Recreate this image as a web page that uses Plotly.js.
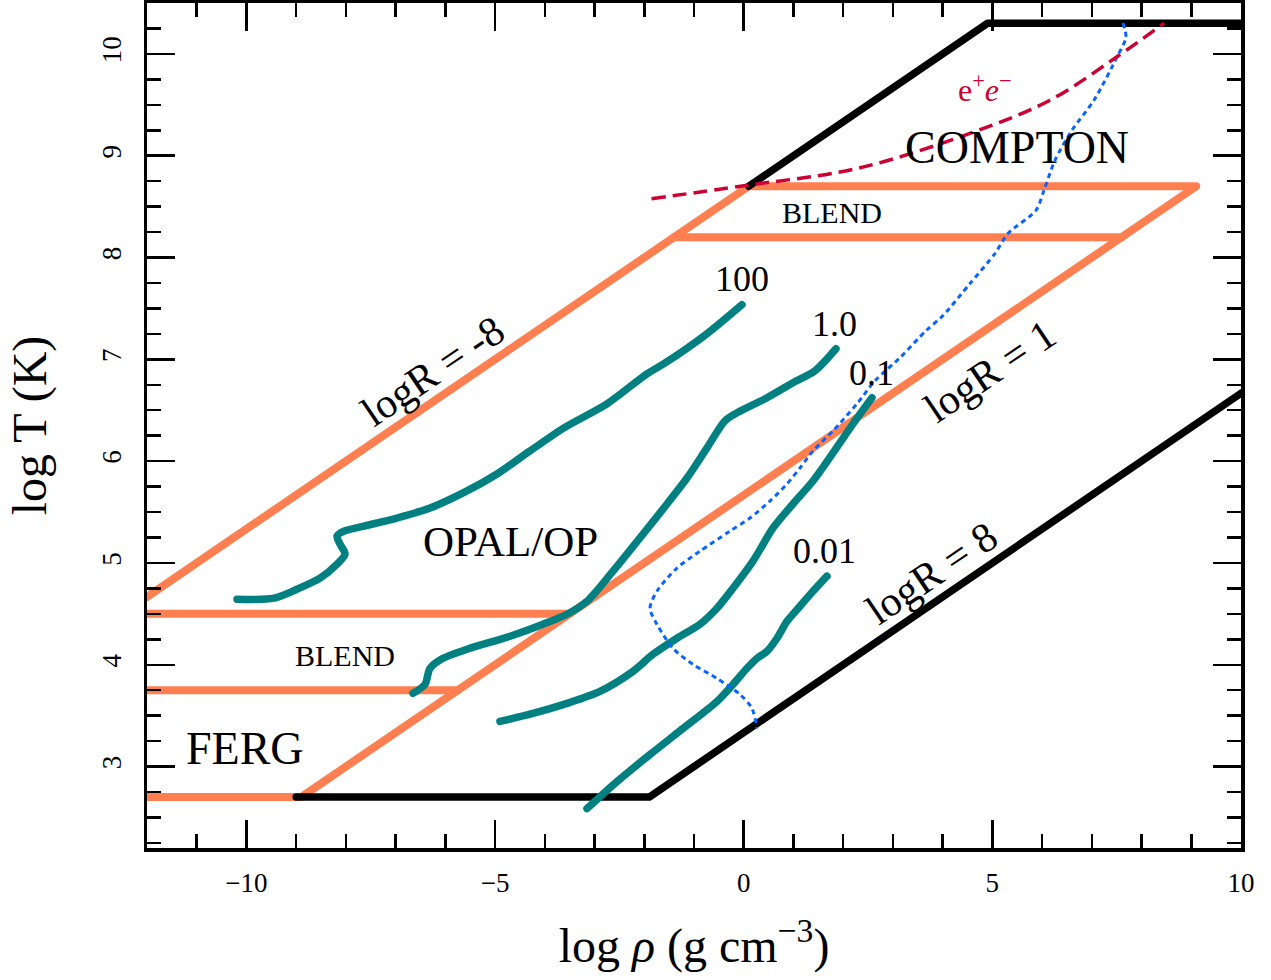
<!DOCTYPE html>
<html>
<head>
<meta charset="utf-8">
<script src="https://cdn.plot.ly/plotly-3.0.1.min.js"></script>
<style>html,body{margin:0;padding:0;background:#fff;}#chart{width:1271px;height:980px;}</style>
</head>
<body>
<div id="chart"></div>
<script>
// ---- Region boundaries (log rho, log T) ----
const orangeOuterX = [-12, 0.1, 9.1, -8.9, -12];
const orangeOuterY = [4.667, 8.7, 8.7, 2.7, 2.7];
const orangeBlendHighX = [-1.4, 7.6];
const orangeBlendHighY = [8.2, 8.2];
const orangeBlendLow1X = [-12, -3.5];
const orangeBlendLow1Y = [4.5, 4.5];
const orangeBlendLow2X = [-12, -5.75];
const orangeBlendLow2Y = [3.75, 3.75];

const blackTopX = [0.1, 4.9, 10];
const blackTopY = [8.7, 10.3, 10.3];
const blackBottomX = [-9, -1.9, 10];
const blackBottomY = [2.7, 2.7, 6.667];

// ---- Stellar track curves (teal) ----
const curve100X = [-10.19, -9.446, -8.984, -8.521, -8.179, -8.018, -8.119, -8.179, -8.039, -7.636, -6.973, -6.309, -5.565, -4.962, -4.298, -3.615, -2.75, -1.946, -1.604, -0.739, -0.035];
const curve100Y = [4.644, 4.654, 4.742, 4.85, 4.988, 5.087, 5.185, 5.264, 5.313, 5.362, 5.441, 5.539, 5.707, 5.874, 6.1, 6.327, 6.563, 6.858, 6.957, 7.252, 7.537];

const curve1X = [-6.651, -6.41, -6.309, -6.048, -5.565, -4.7, -4.037, -3.554, -3.152, -2.629, -2.026, -1.543, -1.141, -0.739, -0.377, -0.136, 0.468, 0.99, 1.433, 1.855];
const curve1Y = [3.719, 3.807, 3.965, 4.063, 4.152, 4.28, 4.398, 4.496, 4.624, 4.919, 5.283, 5.579, 5.834, 6.13, 6.396, 6.474, 6.622, 6.77, 6.888, 7.104];

const curve01X = [-4.902, -4.238, -3.554, -2.891, -2.227, -1.825, -1.342, -0.88, -0.538, -0.216, 0.186, 0.588, 0.99, 1.392, 1.795, 2.197, 2.579];
const curve01Y = [3.443, 3.522, 3.62, 3.738, 3.935, 4.102, 4.26, 4.398, 4.555, 4.752, 5.018, 5.343, 5.579, 5.805, 6.081, 6.366, 6.622];

const curve001X = [-3.152, -2.549, -1.885, -1.222, -0.538, -0.216, 0.065, 0.266, 0.468, 0.669, 0.87, 1.131, 1.393, 1.674];
const curve001Y = [2.587, 2.852, 3.118, 3.374, 3.64, 3.807, 3.965, 4.063, 4.132, 4.26, 4.427, 4.575, 4.722, 4.87];

// ---- Blue dotted curve ----
const blueX = [7.626, 7.686, 7.505, 7.043, 6.6, 6.259, 6.037, 5.877, 5.314, 5.052, 4.549, 4.006, 3.665, 3.142, 2.639, 2.277, 1.795, 1.392, 1.131, 0.87, 0.528, 0.125, -0.277, -0.88, -1.342, -1.745, -1.885, -1.745, -1.423, -1.021, -0.538, -0.076, 0.166, 0.266];
const blueY = [10.303, 10.165, 9.968, 9.545, 9.25, 8.955, 8.659, 8.463, 8.236, 8.039, 7.744, 7.429, 7.281, 7.016, 6.789, 6.563, 6.297, 6.1, 5.933, 5.776, 5.608, 5.441, 5.313, 5.116, 4.949, 4.722, 4.555, 4.398, 4.161, 4.004, 3.866, 3.709, 3.571, 3.374];

// ---- Pair-production (e+e-) dashed curve ----
const pairX = [-1.855, 0.08, 2.29, 4.61, 6.16, 7.47, 8.45];
const pairY = [8.578, 8.71, 8.876, 9.23, 9.545, 9.96, 10.3];

// ---- Tick values ----
const xTickVals = [-10, -5, 0, 5, 10];
const yTickVals = [3, 4, 5, 6, 7, 8, 9, 10];

const SERIF = 'Liberation Serif, Times New Roman, serif';
const ORANGE = '#ff7f50';
const TEAL = '#008080';

function seg(x, y, color, width, dash, smooth) {
  const line = {color: color, width: width, dash: dash || 'solid', shape: smooth ? 'spline' : 'linear'};
  if (smooth) line.smoothing = smooth;
  return {x: x, y: y, type: 'scatter', mode: 'lines', hoverinfo: 'skip', showlegend: false, line: line};
}

const traces = [
  seg(orangeOuterX, orangeOuterY, ORANGE, 8),
  seg(orangeBlendHighX, orangeBlendHighY, ORANGE, 8),
  seg(orangeBlendLow1X, orangeBlendLow1Y, ORANGE, 8),
  seg(orangeBlendLow2X, orangeBlendLow2Y, ORANGE, 8),
  seg(blackTopX, blackTopY, 'black', 7.5),
  seg(blackBottomX, blackBottomY, 'black', 7.5),
  seg(curve100X, curve100Y, TEAL, 7.5, null, 0.8),
  seg(curve1X, curve1Y, TEAL, 7.5, null, 0.8),
  seg(curve01X, curve01Y, TEAL, 7.5, null, 0.8),
  seg(curve001X, curve001Y, TEAL, 7.5, null, 0.8),
  seg(blueX, blueY, '#0a64ff', 3, '5px,4px', 0.8),
  seg(pairX, pairY, '#cc0033', 3.5, '14px,7px', 1)
];

function lab(x, y, text, size, opts) {
  return Object.assign({x: x, y: y, xref: 'x', yref: 'y', text: text, showarrow: false,
    xanchor: 'center', yanchor: 'middle', font: {family: SERIF, size: size, color: 'black'}}, opts || {});
}

const annotations = [
  lab(-0.035, 7.793, '100', 36),
  lab(1.835, 7.35, '1.0', 36),
  lab(2.56, 6.868, '0.1', 36),
  lab(1.634, 5.116, '0.01', 36),
  lab(5.495, 9.083, 'COMPTON', 46),
  lab(4.851, 9.663, 'e<sup>+</sup><i>e</i><sup>−</sup>', 32, {font: {family: SERIF, size: 32, color: '#cc0033'}}),
  lab(1.775, 8.443, 'BLEND', 30),
  lab(-8.018, 4.093, 'BLEND', 30),
  lab(-10.03, 3.177, 'FERG', 46),
  lab(-4.70, 5.215, 'OPAL/OP', 43),
  lab(-6.249, 6.888, 'logR = -8', 42, {textangle: -34}),
  lab(4.952, 6.888, 'logR = 1', 42, {textangle: -34}),
  lab(3.785, 4.9, 'logR = 8', 42, {textangle: -34})
];

const axisCommon = {
  showline: true, linecolor: 'black', linewidth: 3.5, mirror: 'allticks',
  ticks: 'inside', ticklen: 28, tickwidth: 2.5, tickcolor: 'black',
  showgrid: false, zeroline: false,
  tickfont: {family: SERIF, size: 27, color: 'black'}
};

const layout = {
  width: 1271, height: 980,
  margin: {l: 147, r: 30, t: 3, b: 132},
  paper_bgcolor: 'white', plot_bgcolor: 'white',
  showlegend: false,
  xaxis: Object.assign({}, axisCommon, {
    range: [-12, 10], tickmode: 'array', tickvals: xTickVals,
    minor: {dtick: 1, tick0: 0, ticks: 'inside', ticklen: 14, tickwidth: 2.5, tickcolor: 'black', showgrid: false},
    ticklabelstandoff: 8,
    title: {text: 'log <i>ρ</i> (g cm<sup>−3</sup>)', font: {family: SERIF, size: 48, color: 'black'}, standoff: 32}
  }),
  yaxis: Object.assign({}, axisCommon, {
    range: [2.2, 10.5], tickmode: 'array', tickvals: yTickVals, tickangle: -90,
    minor: {dtick: 0.25, tick0: 0, ticks: 'inside', ticklen: 14, tickwidth: 2.5, tickcolor: 'black', showgrid: false},
    ticklabelstandoff: 12,
    title: {text: 'log T (K)', font: {family: SERIF, size: 48, color: 'black'}, standoff: 36}
  }),
  annotations: annotations
};

Plotly.newPlot('chart', traces, layout, {displayModeBar: false, staticPlot: true}).then(function (gd) {
  // round caps/joins on the solid lines, like the reference
  gd.querySelectorAll('.scatterlayer .trace path.js-line').forEach(function (p) {
    const da = p.style.strokeDasharray;
    p.style.strokeLinejoin = 'round';
    if (!da || da === 'none' || da === '') p.style.strokeLinecap = 'round';
  });
});
</script>
</body>
</html>
